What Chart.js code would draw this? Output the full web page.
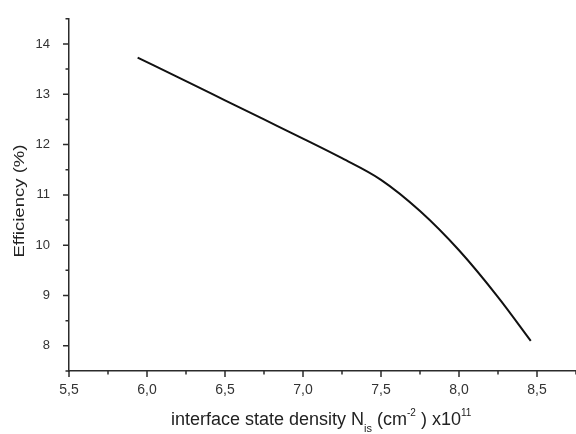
<!DOCTYPE html>
<html>
<head>
<meta charset="utf-8">
<script src="https://cdn.jsdelivr.net/npm/chart.js@4/dist/chart.umd.min.js"></script>
<style>
html,body{margin:0;padding:0;background:#fff;}
#wrap{width:576px;height:434px;position:relative;}
</style>
</head>
<body>
<div id="wrap"><canvas id="c" width="576" height="434"></canvas></div>
<script>
const densityX = [5.94, 6.25, 6.5, 6.75, 7.0, 7.25, 7.5, 7.75, 8.0, 8.25, 8.46];
const efficiencyY = [13.73, 13.26, 12.88, 12.50, 12.12, 11.73, 11.30, 10.68, 9.90, 8.97, 8.10];
const xMajorTicks = [5.5, 6.0, 6.5, 7.0, 7.5, 8.0, 8.5];
const xMinorTicks = [5.75, 6.25, 6.75, 7.25, 7.75, 8.25, 8.75];
const yMajorTicks = [8, 9, 10, 11, 12, 13, 14];
const yMinorTicks = [7.5, 8.5, 9.5, 10.5, 11.5, 12.5, 13.5, 14.5];
const yTitle = 'Efficiency (%)';

const FONT = '"Liberation Sans", Arial, sans-serif';
const axisColor = '#2b2b2b';

const tickPlugin = {
  id: 'ticksAndTitles',
  afterDraw(chart) {
    const ctx = chart.ctx;
    const xs = chart.scales.x, ys = chart.scales.y;
    const area = chart.chartArea;
    ctx.save();
    ctx.strokeStyle = axisColor;
    ctx.lineWidth = 1.5;
    ctx.beginPath();
    xMajorTicks.forEach(v => { const p = xs.getPixelForValue(v); ctx.moveTo(p, area.bottom); ctx.lineTo(p, area.bottom + 6); });
    xMinorTicks.forEach(v => { const p = xs.getPixelForValue(v); if (p <= area.right) { ctx.moveTo(p, area.bottom); ctx.lineTo(p, area.bottom + 3.5); } });
    yMajorTicks.forEach(v => { const p = ys.getPixelForValue(v); ctx.moveTo(area.left, p); ctx.lineTo(area.left - 6, p); });
    yMinorTicks.forEach(v => { const p = ys.getPixelForValue(v); ctx.moveTo(area.left, p); ctx.lineTo(area.left - 3.5, p); });
    ctx.stroke();

    // y title
    ctx.fillStyle = '#222';
    ctx.font = '15px ' + FONT;
    ctx.textAlign = 'center';
    ctx.textBaseline = 'middle';
    const w = ctx.measureText(yTitle).width;
    ctx.translate(20, 201);
    ctx.rotate(-Math.PI / 2);
    ctx.scale(113 / w, 1);
    ctx.fillText(yTitle, 0, 0);
    ctx.setTransform(1, 0, 0, 1, 0, 0);

    // x title with sub/superscripts
    const parts = [
      {t: 'interface state density N', s: 18, dy: 0},
      {t: 'is', s: 11, dy: 7},
      {t: ' (cm', s: 18, dy: 0},
      {t: '-2', s: 10, dy: -9},
      {t: ' ) x10', s: 18, dy: 0},
      {t: '11', s: 10, dy: -9}
    ];
    let x = 171;
    const base = 425;
    ctx.textAlign = 'left';
    ctx.textBaseline = 'alphabetic';
    parts.forEach(pt => {
      ctx.font = pt.s + 'px ' + FONT;
      ctx.fillText(pt.t, x, base + pt.dy);
      x += ctx.measureText(pt.t).width;
    });
    ctx.restore();
  }
};

new Chart(document.getElementById('c'), {
  type: 'line',
  data: {
    datasets: [{
      data: densityX.map((v, i) => ({x: v, y: efficiencyY[i]})),
      borderColor: '#111',
      borderWidth: 2,
      pointRadius: 0,
      fill: false,
      cubicInterpolationMode: 'monotone'
    }]
  },
  options: {
    responsive: false,
    animation: false,
    layout: {padding: {top: 13, right: 0, left: 0, bottom: 0}},
    plugins: {legend: {display: false}, tooltip: {enabled: false}},
    scales: {
      x: {
        type: 'linear',
        min: 5.5, max: 8.75,
        afterFit(s) { s.height = 63; },
        afterBuildTicks(s) { s.ticks = xMajorTicks.map(v => ({value: v})); },
        grid: {display: false},
        border: {display: true, color: axisColor, width: 1.5},
        ticks: {
          color: '#333', padding: 3,
          font: {family: FONT, size: 14},
          callback: v => v.toFixed(1).replace('.', ',')
        }
      },
      y: {
        type: 'linear',
        min: 7.5, max: 14.5,
        afterFit(s) { s.width = 69; },
        afterBuildTicks(s) { s.ticks = yMajorTicks.map(v => ({value: v})); },
        grid: {display: false},
        border: {display: true, color: axisColor, width: 1.5},
        ticks: {
          color: '#333', padding: 11,
          font: {family: FONT, size: 13},
          callback: v => String(v)
        }
      }
    }
  },
  plugins: [tickPlugin]
});
</script>
</body>
</html>
